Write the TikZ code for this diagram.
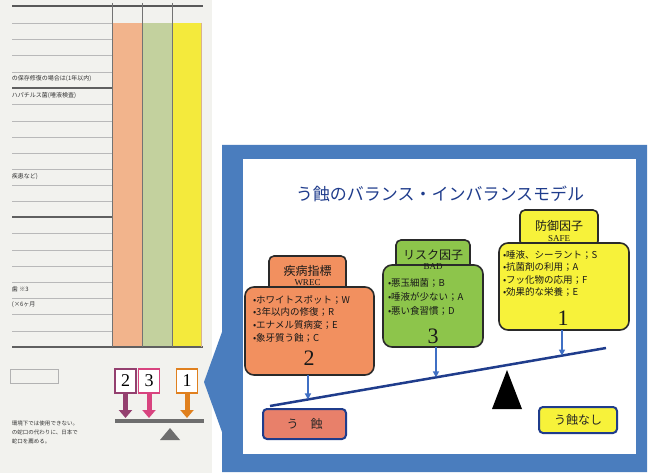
\documentclass[tikz,border=0pt]{standalone}
\usepackage{fontspec}
\setmainfont{Noto Sans CJK JP}
\newfontfamily\numfont{Liberation Serif}
\usetikzlibrary{arrows.meta,calc}
\definecolor{pagebg}{HTML}{F2F2EE}
\definecolor{colO}{HTML}{F2B48C}
\definecolor{colG}{HTML}{C3D19E}
\definecolor{colY}{HTML}{F4EA3C}
\definecolor{frameblue}{HTML}{4A7DBE}
\definecolor{navy}{HTML}{1F3C8C}
\definecolor{boxline}{HTML}{2A2A2A}
\definecolor{fillO}{HTML}{F2905F}
\definecolor{fillG}{HTML}{8DC54B}
\definecolor{fillY}{HTML}{F7F23A}
\definecolor{arrblue}{HTML}{3F6FC4}
\definecolor{cariesF}{HTML}{E8806A}
\definecolor{plum}{HTML}{94406F}
\definecolor{pinkA}{HTML}{D8447F}
\definecolor{orangeA}{HTML}{E0801E}
\definecolor{scalegray}{HTML}{6E6E6E}
\begin{document}
\begin{tikzpicture}[x=1pt,y=-1pt,
  every node/.style={inner sep=0pt,outer sep=0pt},
  rowline/.style={draw=gray!55,line width=0.7pt},
  rowthick/.style={draw=gray!75!black,line width=1.4pt},
  tabtext/.style={anchor=west,font=\fontsize{6}{7}\selectfont,text=black!80},
  hdrbox/.style={draw=boxline,line width=1.6pt,rounded corners=5pt},
  bodybox/.style={draw=boxline,line width=1.6pt,rounded corners=9pt},
  hdrtext/.style={font=\fontsize{12}{13}\selectfont,text=black!90},
  hdrcode/.style={font=\numfont\fontsize{9}{10}\selectfont,text=black!90},
  item/.style={anchor=west,font=\fontsize{9.5}{11}\selectfont,text=black!90},
  bignum/.style={font=\numfont\fontsize{22}{24}\selectfont,text=black!90},
  arr/.style={draw=arrblue,line width=1.5pt,-{Triangle[width=6pt,length=6pt]}},
  endbox/.style={draw=navy,line width=2pt,rounded corners=4pt,font=\fontsize{12}{13}\selectfont,text=black!85},
  numbox/.style={draw=#1,line width=1.6pt,fill=white,minimum width=21pt,minimum height=24pt,font=\numfont\fontsize{18}{19}\selectfont},
  fatarr/.style={draw=#1,line width=5pt,-{Triangle[width=13pt,length=8pt]}}
]
\useasboundingbox (0,0) rectangle (651,473);
\fill[white] (0,0) rectangle (651,473);
\fill[pagebg] (0,0) rectangle (212,473);
% table
\fill[colO] (112,23) rectangle (142,347);
\fill[colG] (142,23) rectangle (172,347);
\fill[colY] (172,23) rectangle (201,347);
\foreach \yy in {23,39,55,72,104,121,137,153,169,185,201,233,250,266,282,298,314,331}
  \draw[rowline] (12,\yy) -- (112,\yy);
\foreach \yy in {88,217}
  \draw[rowthick] (12,\yy) -- (112,\yy);
\draw[draw=black!65,line width=1.2pt] (12,6) -- (203,6);
\draw[rowthick] (12,347) -- (203,347);
\foreach \xx in {112,142,172}
  \draw[draw=black!55,line width=0.9pt] (\xx,3) -- (\xx,347);
\draw[draw=brown!60,line width=0.5pt] (201,23) -- (201,347);
\node[tabtext] (t1) at (12,79) {の保存修復の場合は(1年以内)};
\node[tabtext] (t2) at (12,96) {ハパチルス菌(唾液検査)};
\node[tabtext] (t3) at (12,177) {疾患など)};
\node[tabtext] (t4) at (12,289) {歯 ※3};
\node[tabtext] (t5) at (12,305) {(×6ヶ月};
\node[draw=gray!60,line width=0.8pt,minimum width=48pt,minimum height=14pt] (smallrect) at (34,376) {};
\node[tabtext,font=\fontsize{5.5}{6.5}\selectfont] (n1) at (12,423) {環境下では使用できない。};
\node[tabtext,font=\fontsize{5.5}{6.5}\selectfont] (n2) at (12,432) {の蛇口の代わりに、日本で};
\node[tabtext,font=\fontsize{5.5}{6.5}\selectfont] (n3) at (12,441) {蛇口を薦める。};
% small scale
\node[numbox=plum] (s2) at (125.5,381) {2};
\node[numbox=pinkA] (s3) at (149,381) {3};
\node[numbox=orangeA] (s1) at (187,381) {1};
\coordinate (p2) at (125.5,418);
\coordinate (p3) at (149,418);
\coordinate (p1) at (187,418);
\draw[fatarr=plum] (s2.south) -- (p2);
\draw[fatarr=pinkA] (s3.south) -- (p3);
\draw[fatarr=orangeA] (s1.south) -- (p1);
\coordinate (sbL) at (115,421);
\coordinate (sbR) at (204,421);
\draw[draw=scalegray,line width=3.5pt] (sbL) -- (sbR);
\fill[scalegray] (170,428) -- (180,440) -- (160,440) -- cycle;
% callout frame
\fill[frameblue] (222,145) -- (647,145) -- (647,472) -- (222,472) -- (222,432) -- (204,382) -- (222,332) -- cycle;
\fill[white] (243,159) rectangle (636,454);
\node[font=\fontsize{17}{19}\selectfont,text=navy] (title) at (440,194) {う蝕のバランス・インバランスモデル};
% orange group
\node[hdrbox,fill=fillO,minimum width=77pt,minimum height=36pt] (oh) at (307.5,274) {};
\node[bodybox,fill=fillO,minimum width=129pt,minimum height=88pt] (ob) at (309.5,331) {};
\node[hdrtext] (ohT) at (307.5,271) {疾病指標};
\node[hdrcode] (ohC) at (307.5,283) {WREC};
\node[item] (o1) at (253,300) {•ホワイトスポット；W};
\node[item] (o2) at (253,312) {•3年以内の修復；R};
\node[item] (o3) at (253,325) {•エナメル質病変；E};
\node[item] (o4) at (253,338) {•象牙質う蝕；C};
\node[bignum] (oN) at (309,358) {2};
% green group
\node[hdrbox,fill=fillG,minimum width=74pt,minimum height=34pt] (gh) at (433,257) {};
\node[bodybox,fill=fillG,minimum width=100pt,minimum height=82pt] (gb) at (433,306) {};
\node[hdrtext] (ghT) at (433,255) {リスク因子};
\node[hdrcode] (ghC) at (433,267) {BAD};
\node[item] (g1) at (388,283) {•悪玉細菌；B};
\node[item] (g2) at (388,297) {•唾液が少ない；A};
\node[item] (g3) at (388,311) {•悪い食習慣；D};
\node[bignum] (gN) at (433,336) {3};
% yellow group
\node[hdrbox,fill=fillY,minimum width=78pt,minimum height=36pt] (yh) at (559,228) {};
\node[bodybox,fill=fillY,minimum width=130pt,minimum height=87pt] (yb) at (564,286.5) {};
\node[hdrtext] (yhT) at (559,226) {防御因子};
\node[hdrcode] (yhC) at (559,239) {SAFE};
\node[item] (y1) at (503,255) {•唾液、シーラント；S};
\node[item] (y2) at (503,267) {•抗菌剤の利用；A};
\node[item] (y3) at (503,280) {•フッ化物の応用；F};
\node[item] (y4) at (503,292) {•効果的な栄養；E};
\node[bignum] (yN) at (563,318) {1};
% beam
\coordinate (bL) at (270,406);
\coordinate (bR) at (606,348);
\draw[draw=navy,line width=2.5pt] (bL) -- (bR);
\coordinate (oa) at ($(bL)!0.113!(bR)$);
\coordinate (ga) at ($(bL)!0.494!(bR)$);
\coordinate (ya) at ($(bL)!0.869!(bR)$);
\draw[arr] (ob.south -| oa) -- (oa);
\draw[arr] (gb.south -| ga) -- (ga);
\draw[arr] (yb.south -| ya) -- (ya);
\fill[black] (507,370) -- (522,409) -- (492,409) -- cycle;
\node[endbox,fill=cariesF,minimum width=83pt,minimum height=30pt] (caries) at (304.5,424) {う\quad 蝕};
\node[endbox,fill=fillY,minimum width=78pt,minimum height=26pt] (nocaries) at (578,420) {う蝕なし};
\end{tikzpicture}
\end{document}
